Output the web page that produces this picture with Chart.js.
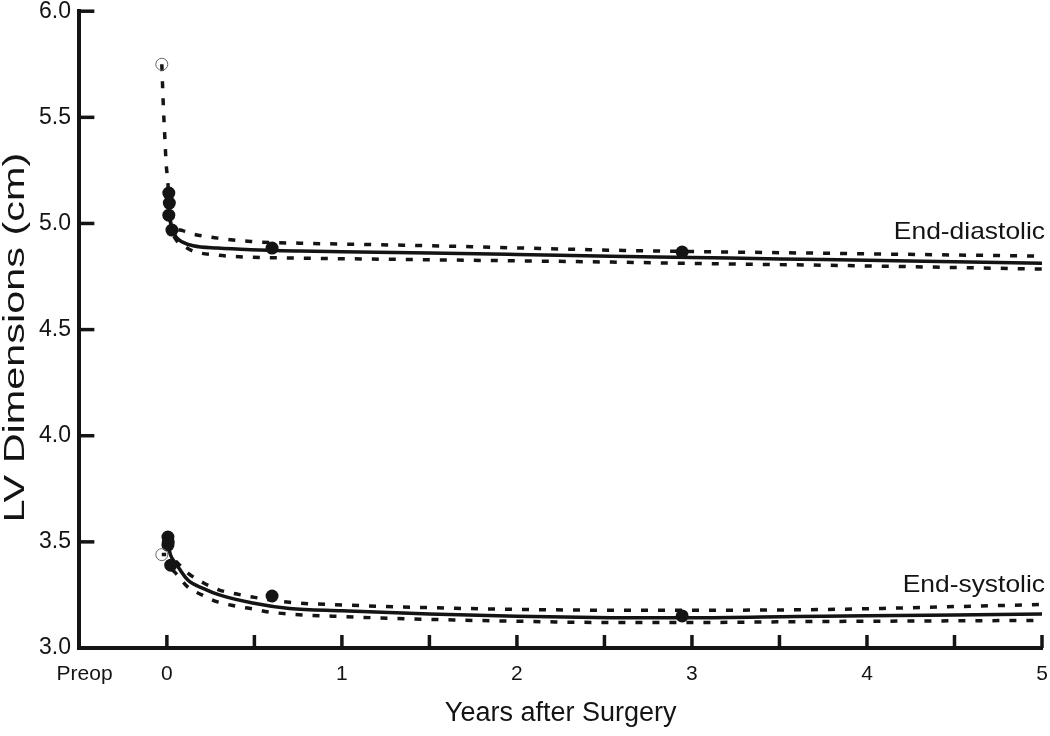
<!DOCTYPE html>
<html><head><meta charset="utf-8">
<script src="https://cdn.jsdelivr.net/npm/chart.js@4.4.0/dist/chart.umd.min.js"></script>
<style>html,body{margin:0;padding:0;background:#fff;}canvas{display:block;}</style>
</head><body>
<canvas id="c" width="1050" height="736"></canvas>
<script>
// ---------- axis ticks ----------
const xTickValues = [-0.47, 0, 1, 2, 3, 4, 5];
const xTickLabels = ['Preop', '0', '1', '2', '3', '4', '5'];
const xMarkYears = [0, 0.5, 1, 1.5, 2, 2.5, 3, 3.5, 4, 4.5, 5];
const yTickValues = [3.0, 3.5, 4.0, 4.5, 5.0, 5.5, 6.0];

// ---------- End-diastolic ----------
const edPreopYear = [-0.029];
const edPreopValue = [5.75];
const edDotYears = [0.011, 0.014, 0.011, 0.029, 0.601, 2.944];
const edDotValues = [5.143, 5.096, 5.039, 4.969, 4.884, 4.865];
const edFitYears = [0.012, 0.03, 0.06, 0.09, 0.15, 0.29, 0.48, 0.76, 1.0, 1.5, 2.0, 2.54, 3.0, 3.5, 4.0, 4.5, 5.0];
const edFitValues = [5.04, 4.97, 4.93, 4.912, 4.895, 4.884, 4.876, 4.870, 4.867, 4.861, 4.854, 4.846, 4.840, 4.833, 4.827, 4.820, 4.813];
const edUpperYears = [-0.029, -0.02, -0.012, -0.004, 0.006, 0.014, 0.025, 0.05, 0.09, 0.15, 0.29, 0.48, 0.76, 1.0, 1.5, 2.0, 2.54, 3.0, 4.0, 5.0];
const edUpperValues = [5.75, 5.55, 5.41, 5.28, 5.19, 5.06, 4.995, 4.975, 4.966, 4.95, 4.931, 4.915, 4.907, 4.903, 4.895, 4.885, 4.874, 4.868, 4.857, 4.846];
const edLowerYears = [0.04, 0.06, 0.09, 0.15, 0.29, 0.48, 0.76, 1.0, 1.5, 2.0, 2.54, 3.0, 4.0, 5.0];
const edLowerValues = [4.94, 4.915, 4.898, 4.87, 4.851, 4.841, 4.837, 4.834, 4.829, 4.824, 4.818, 4.812, 4.80, 4.785];

// ---------- End-systolic ----------
const esPreopYear = [-0.029];
const esPreopValue = [3.44];
const esDotYears = [0.006, 0.008, 0.006, 0.022, 0.601, 2.944];
const esDotValues = [3.523, 3.50, 3.485, 3.39, 3.245, 3.151];
const esLinkYears = [-0.029, -0.004];
const esLinkValues = [3.44, 3.44];
const esFitYears = [0.005, 0.02, 0.05, 0.12, 0.21, 0.30, 0.49, 0.70, 1.0, 1.5, 2.0, 2.54, 3.0, 3.6, 4.0, 4.5, 5.0];
const esFitValues = [3.50, 3.44, 3.40, 3.32, 3.28, 3.25, 3.212, 3.186, 3.175, 3.16, 3.15, 3.143, 3.142, 3.148, 3.152, 3.156, 3.16];
const esUpperYears = [0.05, 0.12, 0.21, 0.30, 0.40, 0.49, 0.70, 1.0, 1.5, 2.0, 2.54, 3.0, 3.6, 4.0, 4.5, 5.0];
const esUpperValues = [3.41, 3.353, 3.306, 3.273, 3.254, 3.24, 3.215, 3.203, 3.19, 3.182, 3.178, 3.178, 3.18, 3.185, 3.195, 3.205];
const esLowerYears = [0.03, 0.06, 0.12, 0.20, 0.29, 0.39, 0.49, 0.58, 0.70, 1.0, 1.5, 2.0, 2.54, 3.0, 3.6, 4.0, 4.5, 5.0];
const esLowerValues = [3.37, 3.344, 3.287, 3.25, 3.217, 3.198, 3.184, 3.17, 3.16, 3.148, 3.135, 3.126, 3.12, 3.12, 3.124, 3.126, 3.128, 3.13];

// ---------- labels ----------
const curveLabels = ['End-diastolic', 'End-systolic'];
const curveLabelValues = [4.926, 3.264];
const xTitle = 'Years after Surgery';
const yTitle = 'LV Dimensions (cm)';

const pts = (xs, ys) => xs.map((x, i) => ({ x: x, y: ys[i] }));
const INK = '#141414';
const FONT = "'Liberation Sans', Arial, Helvetica, sans-serif";
Chart.defaults.font.family = FONT;
Chart.defaults.color = INK;

const dashed = (xs, ys) => ({
  type: 'line', data: pts(xs, ys), showLine: true, borderColor: INK, borderWidth: 3.5,
  borderDash: [7, 10], pointRadius: 0, cubicInterpolationMode: 'monotone', fill: false, order: 2
});
const solid = (xs, ys) => ({
  type: 'line', data: pts(xs, ys), showLine: true, borderColor: INK, borderWidth: 3.5,
  pointRadius: 0, cubicInterpolationMode: 'monotone', fill: false, order: 1
});
const dots = (xs, ys) => ({
  type: 'scatter', data: pts(xs, ys), showLine: false, pointRadius: 6.5,
  backgroundColor: INK, borderColor: INK, borderWidth: 0, order: 0
});
const openDot = (xs, ys) => ({
  type: 'scatter', data: pts(xs, ys), showLine: false, pointRadius: 6,
  backgroundColor: 'rgba(255,255,255,0)', borderColor: '#666', borderWidth: 1, order: 0
});

const tickMarks = {
  id: 'tickMarks',
  afterDraw(chart) {
    const { ctx, scales: { x, y }, chartArea: a } = chart;
    ctx.save();
    ctx.strokeStyle = INK; ctx.lineWidth = 3.5; ctx.lineCap = 'butt';
    xMarkYears.forEach(v => {
      const px = x.getPixelForValue(v);
      ctx.beginPath(); ctx.moveTo(px, a.bottom); ctx.lineTo(px, a.bottom - 13); ctx.stroke();
    });
    yTickValues.forEach(v => {
      const py = y.getPixelForValue(v);
      ctx.beginPath(); ctx.moveTo(a.left, py); ctx.lineTo(a.left + 15, py); ctx.stroke();
    });
    // curve labels
    ctx.fillStyle = INK;
    ctx.font = '24px ' + FONT;
    ctx.textAlign = 'right'; ctx.textBaseline = 'alphabetic';
    curveLabels.forEach((t, i) => {
      ctx.save();
      ctx.translate(x.getPixelForValue(5) + 3, y.getPixelForValue(curveLabelValues[i]));
      ctx.scale(1.1, 1);
      ctx.fillText(t, 0, 0);
      ctx.restore();
    });
    // y axis title
    ctx.save();
    ctx.translate(16, (a.top + a.bottom) / 2 + 8);
    ctx.rotate(-Math.PI / 2);
    ctx.scale(1.38, 1);
    ctx.font = '30px ' + FONT;
    ctx.textAlign = 'center'; ctx.textBaseline = 'middle';
    ctx.fillText(yTitle, 0, 0);
    ctx.restore();
    ctx.restore();
  }
};

new Chart(document.getElementById('c'), {
  type: 'scatter',
  data: {
    datasets: [
      openDot(edPreopYear, edPreopValue),
      dots(edDotYears, edDotValues),
      solid(edFitYears, edFitValues),
      dashed(edUpperYears, edUpperValues),
      dashed(edLowerYears, edLowerValues),
      openDot(esPreopYear, esPreopValue),
      dots(esDotYears, esDotValues),
      dashed(esLinkYears, esLinkValues),
      solid(esFitYears, esFitValues),
      dashed(esUpperYears, esUpperValues),
      dashed(esLowerYears, esLowerValues)
    ]
  },
  options: {
    responsive: false, animation: false, devicePixelRatio: 1,
    layout: { autoPadding: false, padding: { left: 37, right: 8, top: 0, bottom: 9 } },
    plugins: { legend: { display: false }, tooltip: { enabled: false } },
    scales: {
      x: {
        type: 'linear', min: -0.5, max: 5,
        afterBuildTicks: s => { s.ticks = xTickValues.map(v => ({ value: v })); },
        ticks: {
          autoSkip: false, maxRotation: 0, padding: 0, color: INK,
          font: { size: 21, lineHeight: 52 / 21 },
          callback: v => { const i = xTickValues.indexOf(v); return i >= 0 ? xTickLabels[i] : ''; }
        },
        grid: { display: false, drawTicks: false },
        border: { display: true, width: 4, color: INK },
        title: { display: true, text: xTitle, color: INK, font: { size: 27, lineHeight: 1 }, padding: { top: 0, bottom: 0 } }
      },
      y: {
        type: 'linear', min: 3, max: 6,
        afterBuildTicks: s => { s.ticks = yTickValues.map(v => ({ value: v })); },
        ticks: { padding: 2, color: INK, font: { size: 23, lineHeight: 0.8 }, callback: v => Number(v).toFixed(1) + ' ' },
        grid: { display: false, drawTicks: false },
        border: { display: true, width: 4, color: INK }
      }
    }
  },
  plugins: [tickMarks]
});
</script>
</body></html>
